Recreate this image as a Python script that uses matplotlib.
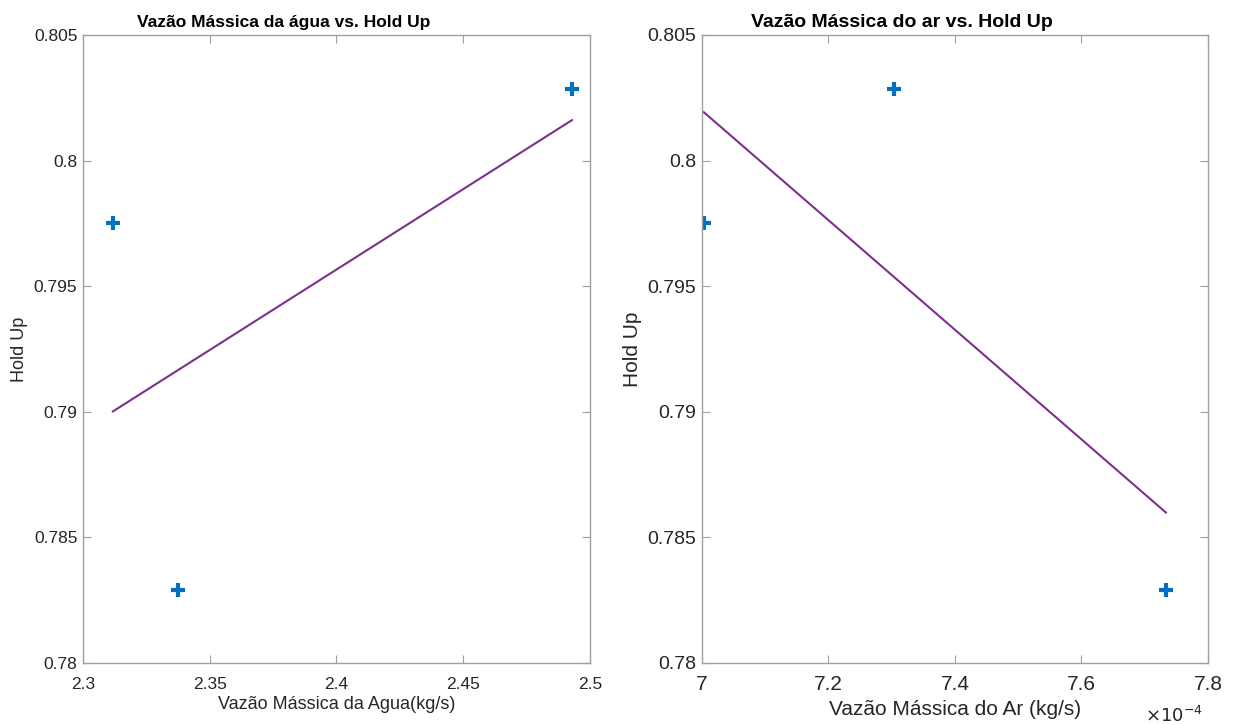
import numpy as np
import matplotlib.pyplot as plt

plt.rcParams['font.family'] = ['Liberation Sans', 'DejaVu Sans']

agua = [2.3118, 2.3375, 2.4929]
ar = [7.003e-4, 7.7336e-4, 7.3036e-4]
holdup = [0.79752, 0.78291, 0.80285]

azul = '#0072BD'
roxo = '#7E2F8E'
cinza = '#a0a0a0'
texto = '#262626'


def estilo(ax, fsx, fsy, padx):
    for s in ax.spines.values():
        s.set_color(cinza)
        s.set_linewidth(1.0)
    ax.tick_params(direction='in', top=True, right=True, color=cinza,
                   labelcolor=texto, length=6)
    ax.tick_params(axis='x', labelsize=fsx, pad=padx)
    ax.tick_params(axis='y', labelsize=fsy, pad=4)
    ax.set_ylim(0.78, 0.805)
    ax.set_yticks([0.78, 0.785, 0.79, 0.795, 0.8, 0.805])
    ax.set_yticklabels(['0.78', '0.785', '0.79', '0.795', '0.8', '0.805'])


fig = plt.figure(figsize=(12.38, 7.24), dpi=100)

ax1 = fig.add_axes([0.067, 0.0843, 0.4095, 0.8674])
ax1.plot(agua, holdup, '+', color=azul, markersize=10, markeredgewidth=3)
p = np.polyfit(agua, holdup, 1)
xs = np.array([min(agua), max(agua)])
ax1.plot(xs, np.polyval(p, xs), color=roxo, linewidth=1.5)
estilo(ax1, 12.5, 12.5, 10)
ax1.set_xlim(2.3, 2.5)
ax1.set_xticks([2.3, 2.35, 2.4, 2.45, 2.5])
ax1.set_xticklabels(['2.3', '2.35', '2.4', '2.45', '2.5'])
ax1.set_xlabel('Vazão Mássica da Agua(kg/s)', fontsize=13, color=texto, labelpad=3)
ax1.set_ylabel('Hold Up', fontsize=13, color=texto, labelpad=4)
ax1.set_title('Vazão Mássica da água vs. Hold Up', fontsize=12.5, fontweight='bold',
              x=0.395, pad=6)

ax2 = fig.add_axes([0.567, 0.0843, 0.4087, 0.8674])
ax2.plot(ar, holdup, '+', color=azul, markersize=10, markeredgewidth=3)
p2 = np.polyfit(ar, holdup, 1)
xs2 = np.array([min(ar), max(ar)])
ax2.plot(xs2, np.polyval(p2, xs2), color=roxo, linewidth=1.5)
estilo(ax2, 15, 14, 9)
ax2.set_xlim(7e-4, 7.8e-4)
ax2.set_xticks([7e-4, 7.2e-4, 7.4e-4, 7.6e-4, 7.8e-4])
ax2.set_xticklabels(['7', '7.2', '7.4', '7.6', '7.8'])
ax2.set_xlabel('Vazão Mássica do Ar (kg/s)', fontsize=15, color=texto, labelpad=4)
ax2.set_ylabel('Hold Up', fontsize=15, color=texto, labelpad=4)
ax2.set_title('Vazão Mássica do ar vs. Hold Up', fontsize=14, fontweight='bold',
              x=0.395, pad=6)
ax2.text(0.99, -0.068, r'$\times10^{-4}$', transform=ax2.transAxes, fontsize=13,
         ha='right', va='top', color=texto)

fig.savefig('out.png', dpi=100)
